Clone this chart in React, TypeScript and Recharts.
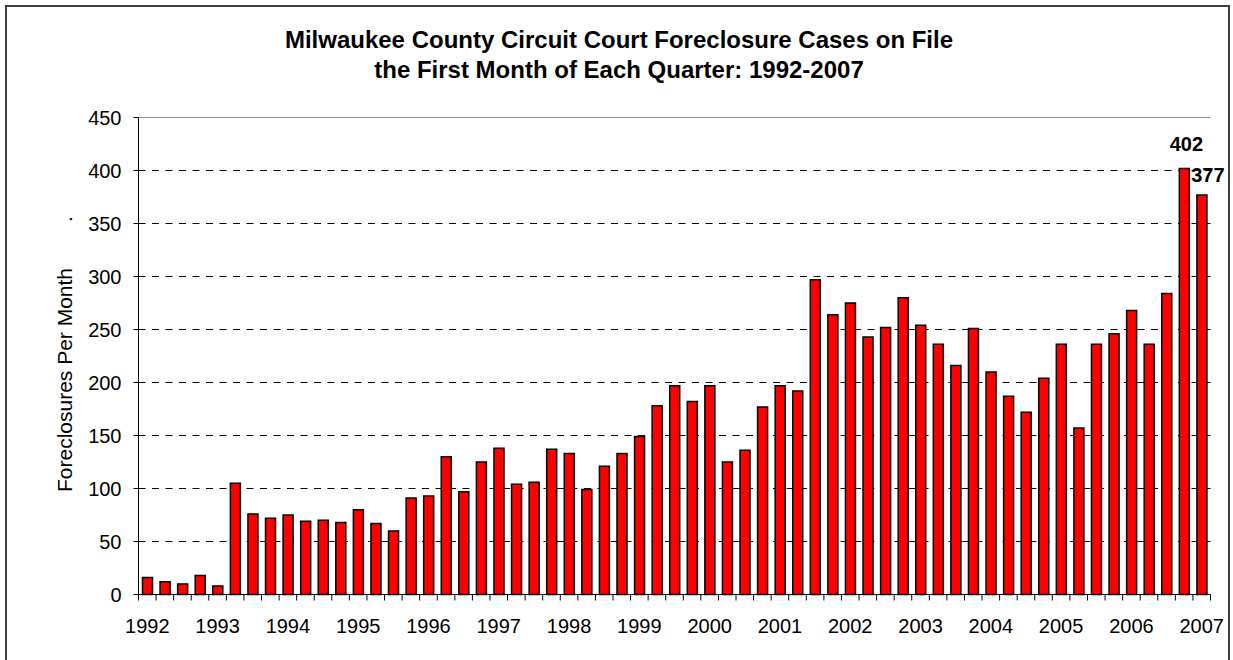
import React from 'react';
import { BarChart, Bar, XAxis, YAxis, CartesianGrid, ReferenceLine, LabelList } from 'recharts';

const years = [1992, 1993, 1994, 1995, 1996, 1997, 1998, 1999, 2000, 2001, 2002, 2003, 2004, 2005, 2006, 2007];
const quarterNames = ['Q1', 'Q2', 'Q3', 'Q4'];

// Foreclosure cases on file, first month of each quarter, 1992 Q1 - 2007 Q1
const foreclosures = [
  16, 12, 10, 18,
  8, 105, 76, 72,
  75, 69, 70, 68,
  80, 67, 60, 91,
  93, 130, 97, 125,
  138, 104, 106, 137,
  133, 99, 121, 133,
  149, 178, 197, 182,
  197, 125, 136, 177,
  197, 192, 297, 264,
  275, 243, 252, 280,
  254, 236, 216, 251,
  210, 187, 172, 204,
  236, 157, 236, 246,
  268, 236, 284, 402,
  377,
];

const yTicks = [0, 50, 100, 150, 200, 250, 300, 350, 400, 450];
const gridValues = [50, 100, 150, 200, 250, 300, 350, 400];
const annotatedValues = [402, 377];

const categories = foreclosures.map((_, i) => `${years[Math.floor(i / 4)]} ${quarterNames[i % 4]}`);
const data = categories.map((c, i) => ({
  quarter: c,
  year: years[Math.floor(i / 4)],
  value: foreclosures[i],
}));

const FONT = '"Liberation Sans", Arial, Helvetica, sans-serif';

const labelOffsets: Record<number, { dx: number; dy: number }> = {
  402: { dx: 2, dy: -24 },
  377: { dx: 6, dy: -20 },
};

const XTick = (props: any) => {
  const { x, y, payload } = props;
  const i = payload?.index ?? props.index ?? 0;
  const half = payload?.offset ?? 8.8;
  const d = data[i];
  return (
    <g>
      <line x1={x - half} x2={x - half} y1={y} y2={y + 6} stroke="#000" strokeWidth={1} />
      {i === data.length - 1 && (
        <line x1={x + half} x2={x + half} y1={y} y2={y + 6} stroke="#000" strokeWidth={1} />
      )}
      {i % 4 === 0 && d && (
        <text x={x} y={y + 38} textAnchor="middle" fontSize={20} fontFamily={FONT} fill="#000">
          {d.year}
        </text>
      )}
    </g>
  );
};

const PeakLabel = (props: any) => {
  const vb = props.viewBox || props;
  const { value } = props;
  if (!annotatedValues.includes(value)) return null;
  const o = labelOffsets[value];
  const cx = vb.x + vb.width / 2 + o.dx;
  return (
    <text x={cx} y={vb.y + o.dy} textAnchor="middle" dominantBaseline="central" fontSize={20} fontWeight="bold" fontFamily={FONT} fill="#000">
      {value}
    </text>
  );
};

export default function App() {
  return (
    <div style={{ position: 'absolute', left: 0, top: 0, width: 1233, height: 660, overflow: 'hidden', background: '#fff' }}>
      <BarChart
        width={1233}
        height={660}
        data={data}
        margin={{ top: 117.5, right: 22.5, bottom: 35.5, left: 78.5 }}
        barSize={10}
      >
        <CartesianGrid horizontal vertical={false} stroke="#000" strokeDasharray="7 6.5" horizontalValues={gridValues} />
        <XAxis
          dataKey="quarter"
          interval={0}
          height={30}
          tickSize={0}
          tickMargin={0}
          tickLine={false}
          axisLine={{ stroke: '#000' }}
          tick={<XTick />}
        />
        <YAxis
          width={60}
          domain={[0, 450]}
          ticks={yTicks}
          interval={0}
          tickSize={5}
          tickMargin={12}
          axisLine={{ stroke: '#000' }}
          tickLine={{ stroke: '#000' }}
          tick={{ fontSize: 20, fill: '#000', fontFamily: FONT }}
        />
        <YAxis
          yAxisId="right"
          orientation="right"
          width={0}
          domain={[0, 450]}
          tick={false}
          tickLine={false}
          axisLine={{ stroke: '#8c8c8c' }}
        />
        <ReferenceLine y={450} stroke="#8c8c8c" />
        <Bar dataKey="value" fill="#ff0000" stroke="#000" strokeWidth={1.5} isAnimationActive={false}>
          <LabelList dataKey="value" content={<PeakLabel />} />
        </Bar>
      </BarChart>
      <svg
        width={1233}
        height={660}
        style={{ position: 'absolute', left: 0, top: 0, pointerEvents: 'none' }}
      >
        <polyline points="6,662 6,6 1229,6 1229,662" fill="none" stroke="#404040" strokeWidth={2} />
        <text x={619} y={48} textAnchor="middle" fontSize={24} fontWeight="bold" fontFamily={FONT} fill="#000">
          Milwaukee County Circuit Court Foreclosure Cases on File
        </text>
        <text x={619} y={78} textAnchor="middle" fontSize={24} fontWeight="bold" fontFamily={FONT} fill="#000">
          the First Month of Each Quarter: 1992-2007
        </text>
        <text transform="translate(72,380) rotate(-90)" textAnchor="middle" fontSize={21} fontFamily={FONT} fill="#000">
          Foreclosures Per Month
        </text>
        <text transform="translate(72,219) rotate(-90)" textAnchor="middle" fontSize={21} fontFamily={FONT} fill="#000">
          .
        </text>
      </svg>
    </div>
  );
}
